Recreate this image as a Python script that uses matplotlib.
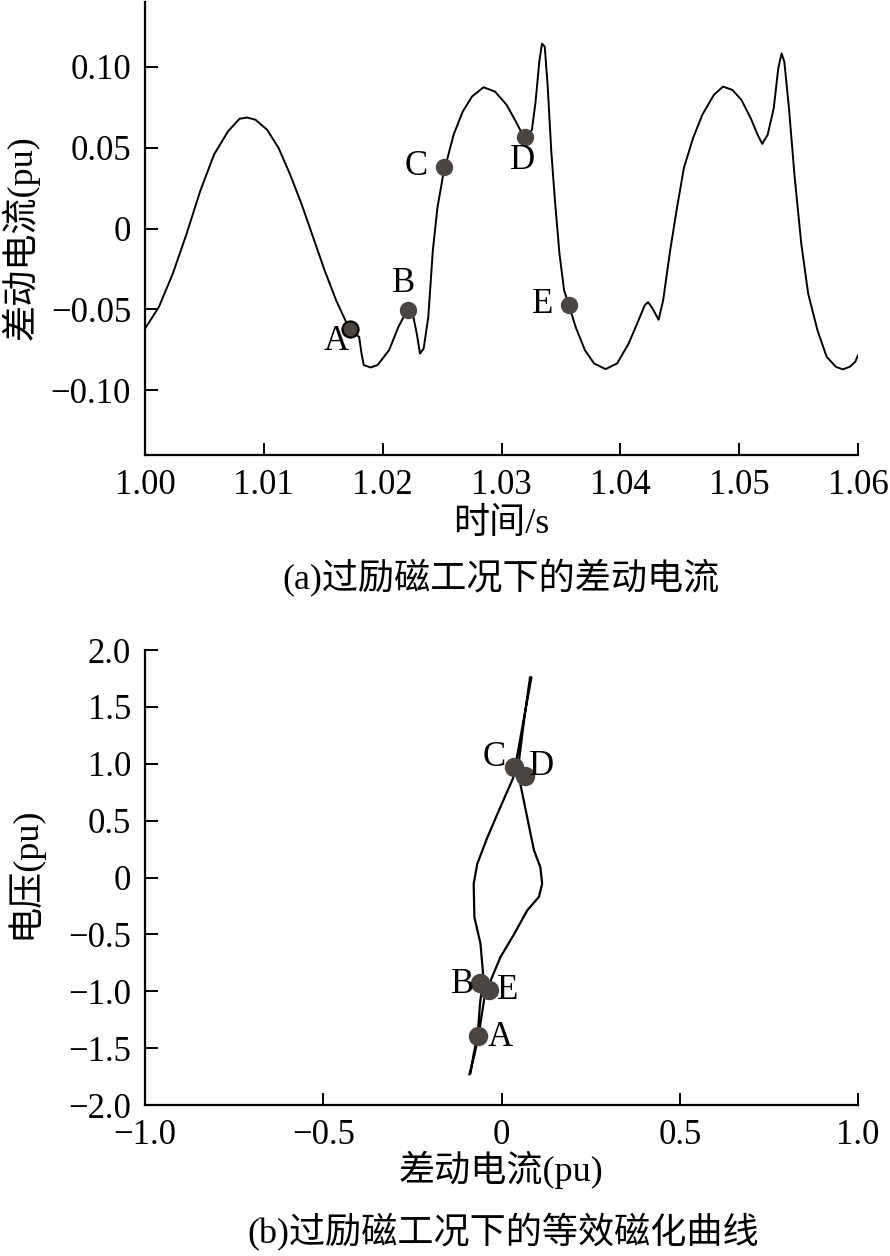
import matplotlib
matplotlib.use("Agg")
import matplotlib.pyplot as plt
from matplotlib.ticker import FuncFormatter, FixedLocator

plt.rcParams['font.family'] = ['Liberation Serif', 'Noto Sans CJK SC', 'DejaVu Sans']
plt.rcParams['axes.unicode_minus'] = True

# ---------------- data: (a) differential current vs time ----------------
time_s = [1.0000, 1.00116, 1.00233, 1.00349, 1.00465, 1.00581, 1.00698, 1.00795, 1.00860, 1.00930,
          1.01027, 1.01124, 1.01221, 1.01318, 1.01415, 1.01512, 1.01609, 1.01686, 1.01725, 1.01764,
          1.01802, 1.01822, 1.01841, 1.01899, 1.01957, 1.02054, 1.02132, 1.02190, 1.02209, 1.02256,
          1.02287, 1.02314, 1.02345, 1.02384, 1.02422, 1.02461, 1.02500, 1.02519, 1.02539, 1.02597,
          1.02674, 1.02752, 1.02849, 1.02946, 1.03043, 1.03120, 1.03178, 1.03198, 1.03217, 1.03256,
          1.03287, 1.03318, 1.03341, 1.03364, 1.03388, 1.03419, 1.03450, 1.03488, 1.03527, 1.03566,
          1.03624, 1.03702, 1.03779, 1.03876, 1.03973, 1.04070, 1.04147, 1.04205, 1.04233, 1.04264,
          1.04295, 1.04322, 1.04360, 1.04419, 1.04477, 1.04535, 1.04612, 1.04690, 1.04787, 1.04864,
          1.04942, 1.05019, 1.05097, 1.05155, 1.05194, 1.05240, 1.05291, 1.05329, 1.05357, 1.05380,
          1.05419, 1.05465, 1.05523, 1.05581, 1.05659, 1.05736, 1.05814, 1.05872, 1.05930, 1.05977,
          1.0600]
diff_current = [-0.0619, -0.0486, -0.0281, -0.0035, 0.0232, 0.0457, 0.0600, 0.0678, 0.0686, 0.0672,
                0.0611, 0.0498, 0.0334, 0.0150, -0.0055, -0.0260, -0.0445, -0.0568, -0.0623, -0.0650,
                -0.0670, -0.0773, -0.0844, -0.0859, -0.0844, -0.0752, -0.0609, -0.0527, -0.0502, -0.0537,
                -0.0650, -0.0773, -0.0742, -0.0547, -0.0137, 0.0129, 0.0293, 0.0381, 0.0416, 0.0580,
                0.0723, 0.0816, 0.0873, 0.0846, 0.0764, 0.0662, 0.0580, 0.0564, 0.0570, 0.0611,
                0.0785, 0.1031, 0.1143, 0.1123, 0.0887, 0.0477, 0.0170, -0.0158, -0.0383, -0.0471,
                -0.0609, -0.0752, -0.0834, -0.0869, -0.0834, -0.0711, -0.0578, -0.0475, -0.0455, -0.0486,
                -0.0527, -0.0564, -0.0445, -0.0137, 0.0129, 0.0375, 0.0559, 0.0703, 0.0826, 0.0877,
                0.0857, 0.0795, 0.0682, 0.0580, 0.0523, 0.0580, 0.0744, 0.0990, 0.1082, 0.1031,
                0.0744, 0.0334, -0.0096, -0.0404, -0.0629, -0.0793, -0.0855, -0.0871, -0.0855, -0.0824,
                -0.0783]

point_names = ['A', 'B', 'C', 'D', 'E']
point_time = [1.01725, 1.02209, 1.02519, 1.03198, 1.03566]
point_current = [-0.0623, -0.0502, 0.0381, 0.0564, -0.0471]

# ---------------- data: (b) equivalent magnetisation curve ----------------
loop_current = [-0.087, -0.078, -0.067, -0.060, -0.054, -0.050, -0.059, -0.076, -0.078, -0.068,
                -0.040, -0.003, 0.032, 0.040, 0.060, 0.084,
                0.080, 0.064, 0.050, 0.046, 0.053, 0.072, 0.091, 0.109, 0.114, 0.105,
                0.072, 0.035, -0.003, -0.031, -0.045, -0.060, -0.075, -0.090]
loop_voltage = [-1.72, -1.55, -1.39, -1.10, -0.96, -0.91, -0.58, -0.35, -0.055, 0.12,
                0.35, 0.62, 0.87, 1.00, 1.35, 1.76,
                1.76, 1.40, 1.05, 0.90, 0.82, 0.53, 0.24, 0.09, -0.055, -0.17,
                -0.29, -0.50, -0.70, -0.91, -1.00, -1.30, -1.55, -1.73]

loop_point_current = [-0.067, -0.059, 0.034, 0.065, -0.036]
loop_point_voltage = [-1.39, -0.93, 0.97, 0.89, -0.99]

# tick values
top_xticks = [1.00, 1.01, 1.02, 1.03, 1.04, 1.05, 1.06]
top_yticks = [-0.10, -0.05, 0, 0.05, 0.10]
bot_xticks = [-1.0, -0.5, 0, 0.5, 1.0]
bot_yticks = [-2.0, -1.5, -1.0, -0.5, 0, 0.5, 1.0, 1.5, 2.0]

DOT = '#4a4542'
FS = 25
FS_CN = 26
fig = plt.figure(figsize=(8.9, 12.56), dpi=100)

W = 890.0
H = 1256.0
ax1 = fig.add_axes([145 / W, 1 - 455 / H, 713 / W, 453 / H])
ax2 = fig.add_axes([145 / W, 1 - 1105 / H, 713 / W, 455 / H])


def fmt(dec):
    def f(v, pos):
        if abs(v) < 1e-12:
            return '0'
        s = f'{v:.{dec}f}'
        return s.replace('-', '\u2212')
    return FuncFormatter(f)


for ax in (ax1, ax2):
    for s in ('top', 'right'):
        ax.spines[s].set_visible(False)
    for s in ('left', 'bottom'):
        ax.spines[s].set_linewidth(1.6)
    ax.tick_params(direction='in', length=9, width=1.4, labelsize=FS, pad=10)

# ---- (a)
ax1.plot(time_s, diff_current, color='black', lw=1.4)
ax1.plot(point_time, point_current, 'o', ms=11.5, color=DOT, mec=DOT)
ax1.plot(point_time[:1], point_current[:1], 'o', ms=11.5, color=DOT, mec='black', mew=1.6)
offs1 = [(-10, -9), (-3, 19), (-20, 0), (-1.5, -17), (-19, 0)]
for n, x, y, o in zip(point_names, point_time, point_current, offs1):
    ax1.annotate(n, (x, y), xytext=o, textcoords='offset points', ha='center', va='center',
                 fontsize=FS)
ax1.set_xlim(1.0, 1.06)
ax1.set_ylim(-0.14, 0.14)
ax1.xaxis.set_major_locator(FixedLocator(top_xticks))
ax1.yaxis.set_major_locator(FixedLocator(top_yticks))
ax1.xaxis.set_major_formatter(fmt(2))
ax1.yaxis.set_major_formatter(fmt(2))
ax1.set_xlabel('时间/s', fontsize=FS_CN, va='center')
ax1.set_ylabel('差动电流(pu)', fontsize=FS_CN, va='center')
ax1.xaxis.set_label_coords(0.5, (455 - 524) / 453)
ax1.yaxis.set_label_coords((20 - 145) / 713, (455 - 238) / 453)

# ---- (b)
ax2.plot(loop_current, loop_voltage, color='black', lw=1.6)
ax2.plot(loop_point_current, loop_point_voltage, 'o', ms=13, color=DOT, mec=DOT)
offs2 = [(16, -1), (-13, -1), (-14, 7), (12, 7), (14, 0)]
for n, x, y, o in zip(point_names, loop_point_current, loop_point_voltage, offs2):
    ax2.annotate(n, (x, y), xytext=o, textcoords='offset points', ha='center', va='center',
                 fontsize=FS)
ax2.set_xlim(-1.0, 1.0)
ax2.set_ylim(-2.0, 2.0)
ax2.xaxis.set_major_locator(FixedLocator(bot_xticks))
ax2.yaxis.set_major_locator(FixedLocator(bot_yticks))
ax2.xaxis.set_major_formatter(fmt(1))
ax2.yaxis.set_major_formatter(fmt(1))
ax2.set_xlabel('差动电流(pu)', fontsize=FS_CN, va='center')
ax2.set_ylabel('电压(pu)', fontsize=FS_CN, va='center')
ax2.xaxis.set_label_coords(0.5, (1105 - 1170) / 455)
ax2.yaxis.set_label_coords((24 - 145) / 713, (1105 - 873) / 455)

fig.text(501 / W, 1 - 578 / H, '(a)过励磁工况下的差动电流', ha='center', va='center', fontsize=FS_CN)
fig.text(503 / W, 1 - 1232 / H, '(b)过励磁工况下的等效磁化曲线', ha='center', va='center', fontsize=FS_CN)

fig.savefig('out.png', dpi=100)
